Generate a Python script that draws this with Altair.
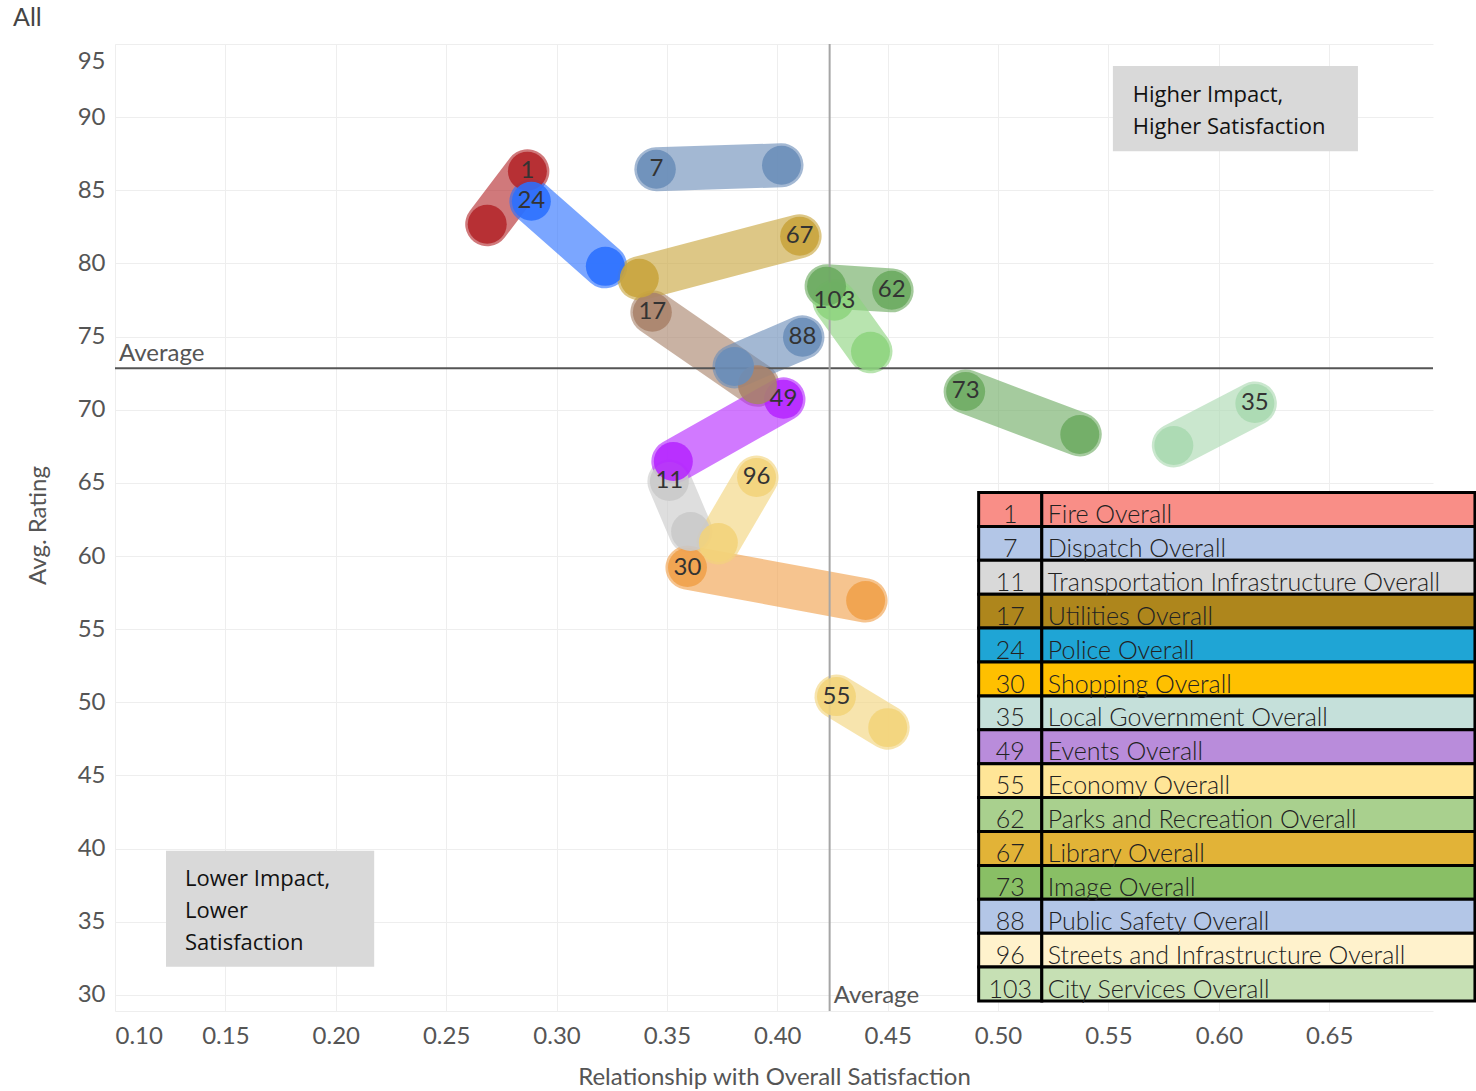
import altair as alt
import pandas as pd

# ---- data -------------------------------------------------------------
ids = [1, 7, 11, 17, 24, 30, 35, 49, 55, 62, 67, 73, 88, 96, 103]
names = [
    "Fire Overall", "Dispatch Overall", "Transportation Infrastructure Overall",
    "Utilities Overall", "Police Overall", "Shopping Overall",
    "Local Government Overall", "Events Overall", "Economy Overall",
    "Parks and Recreation Overall", "Library Overall", "Image Overall",
    "Public Safety Overall", "Streets and Infrastructure Overall",
    "City Services Overall",
]
# labelled end of each segment (impact, rating)
lab_x = [0.2868, 0.3452, 0.3511, 0.3434, 0.2886, 0.3593, 0.6163, 0.4028,
         0.4268, 0.4518, 0.4101, 0.4853, 0.4114, 0.3906, 0.4259]
lab_y = [86.30, 86.44, 65.10, 76.66, 84.25, 59.21, 70.43, 70.71,
         50.39, 78.16, 81.86, 71.25, 74.95, 65.37, 77.41]
# other end of each segment
oth_x = [0.2686, 0.4019, 0.3607, 0.3910, 0.3221, 0.4400, 0.5796, 0.3529,
         0.4500, 0.4223, 0.3375, 0.5370, 0.3806, 0.3733, 0.4422]
oth_y = [82.68, 86.71, 61.68, 71.70, 79.80, 56.96, 67.56, 66.46,
         48.27, 78.44, 78.98, 68.31, 72.96, 60.92, 73.99]

mark_colors = ["#B3262A", "#6A8DB8", "#CACACA", "#A8826A", "#2A6FFF",
               "#F0A04A", "#A9D9B0", "#B526FF", "#F2D47A", "#6AAA5E",
               "#C8A43C", "#6DAB62", "#6A8DB8", "#F2D37A", "#8DD47E"]
table_colors = ["#F98E87", "#B3C6E7", "#D9D9D9", "#AE861C", "#1FA5D5",
                "#FFC000", "#C5E0DA", "#B98CDB", "#FFE597", "#A9D08E",
                "#E2B337", "#89BF65", "#B3C6E7", "#FFF2CC", "#C6E0B4"]

avg_impact = 0.4237
avg_rating = 72.83

x_ticks = [0.10, 0.15, 0.20, 0.25, 0.30, 0.35, 0.40, 0.45, 0.50, 0.55, 0.60, 0.65]
y_ticks = [30, 35, 40, 45, 50, 55, 60, 65, 70, 75, 80, 85, 90, 95]

# ---- frames -----------------------------------------------------------
keys = [str(i) for i in ids]
seg = pd.DataFrame({
    "id": keys * 2,
    "impact": lab_x + oth_x,
    "rating": lab_y + oth_y,
})
ends = pd.DataFrame({"id": keys, "impact": lab_x, "rating": lab_y})

# key table placed in the lower right of the plot, in data units
tbl_top, row_h = 64.34, 2.317
col_a, col_b, col_c = 0.4912, 0.5198, 0.716
table = pd.DataFrame({
    "id": keys,
    "name": names,
    "fill": table_colors,
    "top": [tbl_top - i * row_h for i in range(len(ids))],
})
table["bottom"] = table["top"] - row_h
table["mid"] = (table["top"] + table["bottom"]) / 2 - 0.38

FONT = "Lato"
X = alt.X("impact:Q", scale=alt.Scale(domain=[0.10, 0.697], nice=False, zero=False),
          axis=alt.Axis(values=x_ticks, format=".2f", title="Relationship with Overall Satisfaction",
                        labelFlush=True, ticks=False, labelPadding=13,
                        titleX=659, titleY=66, titleBaseline="middle"))
Y = alt.Y("rating:Q", scale=alt.Scale(domain=[28.9, 95], nice=False, zero=False),
          axis=alt.Axis(values=y_ticks, title="Avg. Rating", labelFlush=True,
                        labelFlushOffset=-5, ticks=False, labelPadding=10,
                        titleX=-77, titleY=481, titleBaseline="middle",
                        titleAngle=-90))
color = alt.Color("id:N", scale=alt.Scale(domain=keys, range=mark_colors), legend=None)

base = alt.Chart(seg)

segments = base.mark_line(strokeWidth=44, opacity=0.62, strokeCap="round").encode(
    x=X, y=Y, color=color, detail="id:N")
dots = base.mark_circle(size=1520, opacity=0.88).encode(
    x="impact:Q", y="rating:Q", color=color)
nums = alt.Chart(ends).mark_text(font=FONT, fontSize=24, color="#333333").encode(
    x="impact:Q", y="rating:Q", text="id:N")

h_avg = alt.Chart(pd.DataFrame({"v": [avg_rating]})).mark_rule(
    color="#555555", strokeWidth=2).encode(y="v:Q")
v_avg = alt.Chart(pd.DataFrame({"v": [avg_impact]})).mark_rule(
    color="#A6A6A6", strokeWidth=2).encode(x="v:Q")
h_avg_txt = alt.Chart(pd.DataFrame({"x": [0.10], "y": [avg_rating], "t": ["Average"]})).mark_text(
    font=FONT, fontSize=24, color="#555555", align="left", baseline="bottom", dx=4, dy=-2
).encode(x="x:Q", y="y:Q", text="t:N")
v_avg_txt = alt.Chart(pd.DataFrame({"x": [avg_impact], "y": [30.0], "t": ["Average"]})).mark_text(
    font=FONT, fontSize=24, color="#555555", align="left", baseline="middle", dx=4, dy=1
).encode(x="x:Q", y="y:Q", text="t:N")

# quadrant notes
notes_box = pd.DataFrame({
    "x": [0.552, 0.1231], "x2": [0.663, 0.2174],
    "y": [93.49, 39.85], "y2": [87.67, 31.92],
})
boxes = alt.Chart(notes_box).mark_rect(color="#D9D9D9").encode(
    x="x:Q", x2="x2:Q", y="y:Q", y2="y2:Q")
notes_txt = pd.DataFrame({
    "x": [0.561, 0.1317],
    "y": [91.5, 37.9],
    "t": [["Higher Impact,", "Higher Satisfaction"], ["Lower Impact,", "Lower", "Satisfaction"]],
})
notes = alt.Chart(notes_txt).mark_text(
    font="Open Sans", fontSize=22, color="#111111", align="left", baseline="middle",
    lineHeight=32).encode(x="x:Q", y="y:Q", text="t")

tb = alt.Chart(table)
cell_a = tb.mark_rect(stroke="black", strokeWidth=3).encode(
    x=alt.datum(col_a), x2=alt.datum(col_b), y="top:Q", y2="bottom:Q",
    fill=alt.Fill("fill:N", scale=None))
cell_b = tb.mark_rect(stroke="black", strokeWidth=3).encode(
    x=alt.datum(col_b), x2=alt.datum(col_c), y="top:Q", y2="bottom:Q",
    fill=alt.Fill("fill:N", scale=None))
tbl_num = tb.mark_text(font=FONT, fontSize=25, fontWeight=300, color="#222222",
                       align="center", baseline="middle").encode(
    x=alt.datum((col_a + col_b) / 2), y="mid:Q", text="id:N")
tbl_name = tb.mark_text(font=FONT, fontSize=25, fontWeight=300, color="#222222",
                        align="left", baseline="middle", dx=6).encode(
    x=alt.datum(col_b), y="mid:Q", text="name:N")

# sheet caption in the top-left corner
caption = alt.Chart(pd.DataFrame({"t": ["All"]})).mark_text(
    font=FONT, fontSize=25, color="#444444", align="left", baseline="alphabetic"
).encode(x=alt.value(-102), y=alt.value(-18), text="t:N")

chart = alt.layer(
    segments, h_avg, v_avg, dots, nums, h_avg_txt, v_avg_txt, boxes, notes,
    cell_a, cell_b, tbl_num, tbl_name, caption,
).properties(
    width=1318, height=967,
    autosize=alt.AutoSizeParams(type="none"),
    padding={"left": 115, "top": 44, "right": 43, "bottom": 80},
).configure_view(stroke=None).configure_axis(
    grid=True, gridColor="#EEEEEE", gridWidth=1, domainColor="#EEEEEE",
    labelFont=FONT, labelFontSize=24, labelColor="#555555",
    titleFont=FONT, titleFontSize=24, titleFontWeight="normal", titleColor="#555555",
)

chart.save("out.html", embed_options={"renderer": "svg", "actions": False})
